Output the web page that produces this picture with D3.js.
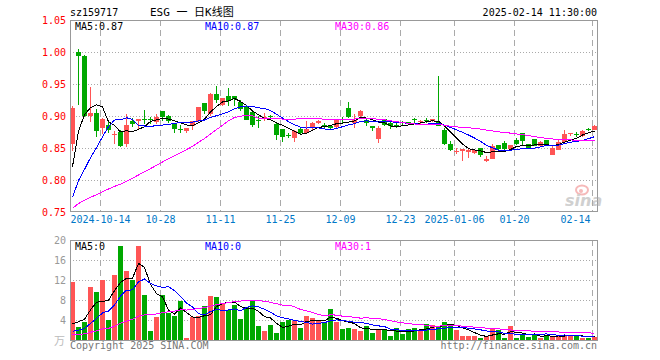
<!DOCTYPE html>
<html>
<head>
<meta charset="utf-8">
<script src="https://cdn.jsdelivr.net/npm/d3@7/dist/d3.min.js"></script>
<style>
  body { margin: 0; background: #fff; }
  svg text { font-family: "DejaVu Sans Mono", monospace; font-size: 10px; }
</style>
</head>
<body>
<script>
// ---- data ----
var tickIndex  = [5, 15, 25, 35, 45, 55, 64, 74, 87];
var tickLabels = ["2024-10-14", "10-28", "11-11", "11-25", "12-09", "12-23", "2025-01-06", "01-20", "02-14"];
var priceTicks = [0.75, 0.80, 0.85, 0.90, 0.95, 1.00, 1.05];
var volTicks   = [4, 8, 12, 16, 20];

var opens  = [0.857,1.000,0.994,0.9005,0.905,0.881,0.8865,0.8708,0.8755,0.8568,0.892,0.8917,0.8953,0.896,0.890,0.9073,0.900,0.889,0.8792,0.876,0.8839,0.8917,
              0.9203,0.9031,0.9349,0.9177,0.9306,0.9317,0.9214,0.915,0.9055,0.8945,0.895,0.8995,0.888,0.880,0.870,0.866,0.879,0.873,0.882,0.889,0.886,0.884,
              0.883,0.8955,0.9125,0.889,0.8995,0.8943,0.8849,0.8646,0.8953,0.8891,0.8859,0.8906,0.8906,0.8953,0.8906,0.8943,0.8917,0.8901,0.8787,0.8568,
              0.8438,0.8448,0.8432,0.8422,0.850,0.8292,0.8333,0.8542,0.8578,0.849,0.863,0.8734,0.8568,0.8641,0.8536,0.863,0.8396,0.8474,0.8594,0.8734,0.8724,0.8682,0.879,0.8786];
var highs  = [0.915,1.004,0.995,0.946,0.911,0.897,0.892,0.876,0.878,0.9036,0.8964,0.8958,0.909,0.899,0.9036,0.9075,0.901,0.889,0.8865,0.8818,0.8927,0.9146,
              0.921,0.936,0.9474,0.9281,0.9437,0.932,0.9255,0.9177,0.906,0.900,0.9045,0.9021,0.889,0.880,0.874,0.878,0.882,0.892,0.891,0.893,0.889,0.886,
              0.895,0.899,0.9214,0.9036,0.9099,0.895,0.885,0.8849,0.8953,0.8905,0.8885,0.8917,0.891,0.8975,0.893,0.8975,0.8958,0.963,0.8813,0.8604,
              0.850,0.8484,0.850,0.8464,0.850,0.837,0.8562,0.8552,0.8604,0.8552,0.8656,0.8734,0.8568,0.8641,0.8615,0.863,0.8526,0.8641,0.8776,0.874,0.8755,0.8786,0.882,0.8854];
var lows   = [0.846,0.917,0.899,0.890,0.867,0.872,0.873,0.857,0.8516,0.8516,0.8828,0.8786,0.888,0.888,0.888,0.8927,0.889,0.8734,0.8734,0.8734,0.8786,0.889,
              0.903,0.9005,0.9203,0.9161,0.9161,0.915,0.9083,0.893,0.883,0.882,0.8917,0.8943,0.863,0.859,0.8655,0.860,0.871,0.872,0.876,0.888,0.882,0.879,
              0.880,0.889,0.8969,0.8813,0.8969,0.8839,0.8771,0.8578,0.885,0.8802,0.8813,0.8865,0.886,0.888,0.888,0.8895,0.891,0.8839,0.8552,0.8448,
              0.8411,0.8292,0.8344,0.841,0.836,0.8276,0.8333,0.8474,0.8474,0.8474,0.8552,0.8552,0.8484,0.8526,0.851,0.8552,0.8396,0.8464,0.8589,0.8693,0.8677,0.8672,0.876,0.8776];
var closes = [0.913,0.993,0.9005,0.905,0.876,0.896,0.8776,0.8719,0.8536,0.886,0.888,0.8958,0.8937,0.894,0.8984,0.8984,0.8917,0.8797,0.8786,0.8818,0.8927,0.9146,
              0.9072,0.9349,0.9245,0.9281,0.9235,0.926,0.9105,0.8943,0.8852,0.8935,0.8985,0.8979,0.871,0.867,0.869,0.877,0.873,0.880,0.889,0.8915,0.884,0.881,
              0.8943,0.894,0.8984,0.8943,0.9083,0.889,0.8813,0.8813,0.8865,0.8839,0.8823,0.8896,0.8875,0.8943,0.8917,0.8932,0.8953,0.8839,0.8568,0.8474,
              0.8453,0.8484,0.8474,0.8464,0.8396,0.8328,0.8536,0.849,0.8484,0.8542,0.8568,0.8604,0.850,0.8526,0.8589,0.8552,0.850,0.8599,0.8719,0.874,0.8698,0.876,0.8776,0.8839];
var volumes = [11.6,2.53,3.53,10.6,9.6,12.0,4.07,13.0,18.87,13.87,12.0,18.87,9.0,1.87,4.67,9.0,5.47,4.87,7.87,0.2,4.67,4.8,
               6.75,8.75,8.55,7.5,6.1,7.05,4.25,6.65,7.8,2.87,1.75,2.95,1.4,3.6,4.1,3.7,2.4,4.75,4.4,4.1,3.5,6.2,
               3.55,2.2,2.4,2.2,1.8,2.8,1.4,2.15,2.2,0.8,2.4,1.2,2.2,2.4,2.0,3.2,3.0,2.8,3.6,3.0,
               2.0,0.8,0.8,0.8,0.4,0.8,2.2,2.0,0.4,2.8,0.4,1.25,0.6,1.0,0.4,1.0,0.8,0.8,1.0,0.8,1.0,0.4,0.27,0.6];

// closes and volumes of the 29 days before the window (only needed for the averages)
var preCloses = [0.760,0.758,0.757,0.755,0.754,0.752,0.750,0.749,0.748,0.747,0.746,0.745,0.744,0.743,0.742,0.740,0.739,0.738,0.737,0.735,
                 0.730,0.726,0.722,0.720,0.725,0.718,0.770,0.850,0.854];
var preVolumes = [0.9,0.8,0.7,0.8,0.6,0.7,0.9,0.8,0.7,0.6,0.8,0.7,0.9,0.7,0.6,0.8,0.7,0.6,0.8,0.7,
                  0.3,0.2,0.3,0.2,0.3,0.3,1.0,1.3,1.8];

var maPeriods = [5, 10, 30],
    maColors  = ['#000000', '#0000ff', '#ff00ff'];

// ---- layout ----
var left = 70, right = 598;
var svg = d3.select('body').append('svg')
    .attr('width', 660)
    .attr('height', 360);

var n = closes.length;
var x = d3.scaleBand().domain(d3.range(n)).range([left, right]);
var y = d3.scaleLinear().domain([0.75, 1.05]).range([212, 20]);
var yv = d3.scaleLinear().domain([0, 20]).range([340, 240]);

var upColor = '#ff5555', downColor = '#00a800';
function isUp(i) { return closes[i] >= opens[i]; }

// moving average over the full series (pre-window + window)
function movingAvg(pre, vals, p) {
    var all = pre.concat(vals), off = pre.length;
    return vals.map(function(v, i) {
        return d3.mean(all.slice(off + i - p + 1, off + i + 1));
    });
}

// ---- grids ----
function drawGrid(top, bottom, scale, ticks) {
    svg.append('g').selectAll('line')
        .data(ticks)
        .enter().append('line')
        .attr('x1', left).attr('x2', right)
        .attr('y1', function(d) { return Math.round(scale(d)) + 0.5; })
        .attr('y2', function(d) { return Math.round(scale(d)) + 0.5; })
        .attr('stroke', '#aaa')
        .attr('stroke-dasharray', '1,2');
    svg.append('g').selectAll('line')
        .data(tickIndex)
        .enter().append('line')
        .attr('x1', function(d) { return x(d) + 0.5; })
        .attr('x2', function(d) { return x(d) + 0.5; })
        .attr('y1', top).attr('y2', bottom)
        .attr('stroke', '#aaa')
        .attr('stroke-dasharray', '6,4');
}
drawGrid(20, 212, y, [0.80, 0.85, 0.90, 0.95, 1.00]);
drawGrid(240, 340, yv, [4, 8, 12, 16]);

// ---- candles ----
var candles = svg.append('g').selectAll('g')
    .data(d3.range(n))
    .enter().append('g');
candles.append('rect')      // wick
    .attr('x', function(i) { return x(i) + 2; })
    .attr('width', 1)
    .attr('y', function(i) { return Math.round(y(highs[i])); })
    .attr('height', function(i) { return Math.max(1, Math.round(y(lows[i])) - Math.round(y(highs[i]))); })
    .attr('fill', function(i) { return isUp(i) ? upColor : downColor; });
candles.append('rect')      // body
    .attr('x', function(i) { return x(i); })
    .attr('width', 5)
    .attr('y', function(i) { return Math.round(y(Math.max(opens[i], closes[i]))); })
    .attr('height', function(i) {
        return Math.max(1, Math.round(y(Math.min(opens[i], closes[i]))) - Math.round(y(Math.max(opens[i], closes[i]))));
    })
    .attr('fill', function(i) { return isUp(i) ? upColor : downColor; });

// ---- volume bars ----
svg.append('g').selectAll('rect')
    .data(d3.range(n))
    .enter().append('rect')
    .attr('x', function(i) { return x(i); })
    .attr('width', 5)
    .attr('y', function(i) { return Math.min(Math.round(yv(volumes[i])), 338); })
    .attr('height', function(i) { return 341 - Math.min(Math.round(yv(volumes[i])), 338); })
    .attr('fill', function(i) { return isUp(i) ? upColor : downColor; });

// ---- moving averages ----
maPeriods.forEach(function(p, k) {
    var pm = movingAvg(preCloses, closes, p);
    var vm = movingAvg(preVolumes, volumes, p);
    svg.append('path')
        .attr('d', d3.line().x(function(d, i) { return x(i) + 2.5; }).y(function(d) { return y(d); })(pm))
        .attr('fill', 'none')
        .attr('stroke', maColors[k])
        .attr('shape-rendering', 'crispEdges');
    svg.append('path')
        .attr('d', d3.line().x(function(d, i) { return x(i) + 2.5; }).y(function(d) { return yv(d); })(vm))
        .attr('fill', 'none')
        .attr('stroke', maColors[k])
        .attr('shape-rendering', 'crispEdges');
});

// ---- frames ----
svg.append('rect').attr('x', left + 0.5).attr('y', 20.5).attr('width', right - left - 1).attr('height', 191)
    .attr('fill', 'none').attr('stroke', '#999');
svg.append('rect').attr('x', left + 0.5).attr('y', 240.5).attr('width', right - left - 1).attr('height', 100)
    .attr('fill', 'none').attr('stroke', '#999');

// ---- axes ----
var yAxis = svg.append('g')
    .attr('transform', 'translate(' + left + ',0)')
    .call(d3.axisLeft(y).tickValues(priceTicks).tickFormat(d3.format('.2f')).tickSize(0).tickPadding(4));
yAxis.select('.domain').remove();
yAxis.selectAll('text').style('fill', '#ff0000').style('font-size', '10px').style('font-family', '"DejaVu Sans Mono", monospace');

var vAxis = svg.append('g')
    .attr('transform', 'translate(' + left + ',0)')
    .call(d3.axisLeft(yv).tickValues(volTicks).tickSize(0).tickPadding(4));
vAxis.select('.domain').remove();
vAxis.selectAll('text').style('fill', '#999').style('font-size', '10px').style('font-family', '"DejaVu Sans Mono", monospace');
svg.append('text').attr('x', 65).attr('y', 345).attr('text-anchor', 'end')
    .style('fill', '#bbb').style('font-family', '"Noto Sans CJK SC"').style('font-size', '11px').text('万');

var xAxis = svg.append('g')
    .attr('transform', 'translate(0,212)')
    .call(d3.axisBottom(x).tickValues(tickIndex).tickSize(0).tickPadding(4)
        .tickFormat(function(d) { return tickLabels[tickIndex.indexOf(d)]; }));
xAxis.select('.domain').remove();
xAxis.selectAll('.tick').attr('transform', function(d) { return 'translate(' + (x(d) + 0.5) + ',0)'; });
xAxis.selectAll('text').style('fill', '#0078c8').style('font-size', '10px').style('font-family', '"DejaVu Sans Mono", monospace');
xAxis.selectAll('.tick:last-of-type text').attr('text-anchor', 'end').attr('x', -2);

// ---- header and legends ----
svg.append('text').attr('x', 70).attr('y', 16).text('sz159717');
svg.append('text').attr('x', 150).attr('y', 16)
    .style('font-family', '"DejaVu Sans Mono", "Noto Sans CJK SC", monospace').style('font-size', '11px')
    .text('ESG 一 日K线图');
svg.append('text').attr('x', 597).attr('y', 16).attr('text-anchor', 'end').text('2025-02-14 11:30:00');

svg.append('text').attr('x', 75).attr('y', 30).attr('fill', maColors[0]).text('MA5:0.87');
svg.append('text').attr('x', 205).attr('y', 30).attr('fill', maColors[1]).text('MA10:0.87');
svg.append('text').attr('x', 335).attr('y', 30).attr('fill', maColors[2]).text('MA30:0.86');
svg.append('text').attr('x', 75).attr('y', 250).attr('fill', maColors[0]).text('MA5:0');
svg.append('text').attr('x', 205).attr('y', 250).attr('fill', maColors[1]).text('MA10:0');
svg.append('text').attr('x', 335).attr('y', 250).attr('fill', maColors[2]).text('MA30:1');

svg.append('text').attr('x', 70).attr('y', 349).attr('fill', '#777').text('Copyright 2025 SINA.COM');
svg.append('text').attr('x', 597).attr('y', 349).attr('text-anchor', 'end').attr('fill', '#777').text('http://finance.sina.com.cn');

// sina watermark
var mark = svg.append('g').attr('opacity', 0.55);
mark.append('ellipse').attr('cx', 582).attr('cy', 190).attr('rx', 6).attr('ry', 4.5)
    .attr('fill', 'none').attr('stroke', '#f08080').attr('stroke-width', 2);
mark.append('circle').attr('cx', 581).attr('cy', 191).attr('r', 2).attr('fill', '#f08080');
mark.append('text').attr('x', 565).attr('y', 206)
    .style('font-family', '"DejaVu Sans", sans-serif').style('font-size', '16px')
    .style('font-style', 'italic').style('font-weight', 'bold')
    .attr('fill', '#aaa').text('sina');
</script>
</body>
</html>
